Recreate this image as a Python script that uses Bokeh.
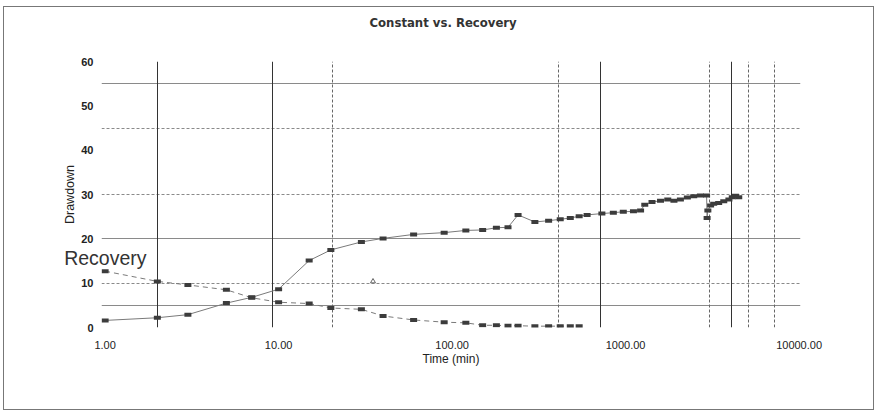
from bokeh.plotting import figure
from bokeh.models import (Range1d, FixedTicker, NumeralTickFormatter, Grid,
                          LinearAxis, ColumnDataSource, Title)
from bokeh.embed import file_html
from bokeh.resources import INLINE

# Constant-rate test: elapsed time (min) and drawdown
constant_time = [1, 2, 3, 5, 7, 10, 15, 20, 30, 40, 60, 90, 120, 150, 180, 210,
                 240, 300, 360, 420, 480, 540, 600, 730, 850, 970, 1110, 1220,
                 1290, 1420, 1590, 1750, 1900, 2070, 2270, 2470, 2700, 2930,
                 2950, 2980, 3090, 3220, 3440, 3680, 3940, 4120, 4300, 4490]
constant_drawdown = [1.6, 2.2, 2.9, 5.5, 6.8, 8.65, 15.1, 17.5, 19.3, 20.1, 21.0,
                     21.4, 21.9, 22.0, 22.5, 22.6, 25.4, 23.8, 24.1, 24.4, 24.7,
                     25.1, 25.4, 25.7, 25.9, 26.1, 26.2, 26.4, 27.7, 28.3, 28.6,
                     28.9, 28.6, 28.9, 29.3, 29.6, 29.8, 29.8, 24.7, 26.4, 27.5,
                     27.9, 28.1, 28.5, 28.9, 29.4, 29.7, 29.4]

# Recovery test: time since pump stop (min) and residual drawdown
recovery_time = [1, 2, 3, 5, 7, 10, 15, 20, 30, 40, 60, 90, 120, 150, 180, 210,
                 240, 300, 360, 420, 480, 540]
recovery_drawdown = [12.7, 10.4, 9.6, 8.5, 6.7, 5.7, 5.4, 4.4, 4.1, 2.6, 1.7, 1.2,
                     1.05, 0.5, 0.5, 0.4, 0.4, 0.3, 0.3, 0.3, 0.3, 0.3]

# Isolated reading
stray_time = [35]
stray_drawdown = [10.4]

# Axis ticks
x_ticks = [1, 10, 100, 1000, 10000]
y_ticks = [0, 10, 20, 30, 40, 50, 60]

# Grid layout
v_solid = [2, 9.2, 720, 4100]
v_dashed = [20.4, 410, 3050, 5100, 7200]
h_frame = [0, 60]
h_solid = [5, 20, 55]
h_dashed = [10, 30, 45]

# Series tag placed beside the recovery curve (drawdown level of the tag)
tag_level = 15.6
tag_text = "Recovery"

p = figure(width=871, height=404, x_axis_type="log",
           x_range=Range1d(0.953, 10190), y_range=Range1d(0, 60),
           output_backend="svg", toolbar_location=None,
           min_border_left=97, min_border_right=75,
           min_border_top=54, min_border_bottom=84)
p.styles = {"margin-left": "3px", "margin-top": "6px", "border": "1px solid #777"}
p.outline_line_color = None
p.background_fill_color = "white"
p.border_fill_color = "white"
p.xgrid.visible = False
p.ygrid.visible = False

# Blank strip between the frame and the title
p.add_layout(Title(text=" ", text_font_size="2px", standoff=28), "above")

# Title
p.title.text = "Constant vs. Recovery"
p.title.align = "left"
p.title.offset = 268
p.title.standoff = 0
p.title.text_font = "DejaVu Sans"
p.title.text_font_style = "bold"
p.title.text_font_size = "11.7px"
p.title.text_color = "#333333"


def add_grid(dim, ticks, color, dash, width):
    g = Grid(dimension=dim, ticker=FixedTicker(ticks=ticks),
             grid_line_color=color, grid_line_dash=dash, grid_line_width=width)
    p.add_layout(g)


add_grid(1, h_solid, "#8a8a8a", "solid", 1)
add_grid(1, h_dashed, "#8a8a8a", "3 2", 1)
add_grid(1, h_frame, "#444444", "solid", 1.5)
add_grid(0, v_dashed, "#666666", "3 2", 1)
add_grid(0, v_solid, "#333333", "solid", 1)

# Axes
for ax in (p.xaxis, p.yaxis):
    ax.axis_line_color = None
    ax.major_tick_line_color = None
    ax.minor_tick_line_color = None
    ax.major_tick_out = 0
    ax.major_tick_in = 0
    ax.minor_tick_out = 0
    ax.major_label_text_font = "Liberation Sans"
    ax.major_label_text_color = "#222222"
    ax.axis_label_text_font = "Liberation Sans"
    ax.axis_label_text_font_style = "normal"
    ax.axis_label_text_color = "#222222"

p.xaxis.ticker = FixedTicker(ticks=x_ticks)
p.xaxis.formatter = NumeralTickFormatter(format="0.00")
p.xaxis.major_label_text_font_size = "11px"
p.xaxis.major_label_standoff = 13
p.xaxis.axis_label = "Time (min)"
p.xaxis.axis_label_text_font_size = "12px"
p.xaxis.axis_label_standoff = 0

p.yaxis.ticker = FixedTicker(ticks=y_ticks)
p.yaxis.major_label_text_font_size = "11px"
p.yaxis.major_label_text_font_style = "bold"
p.yaxis.major_label_standoff = 8
p.yaxis.axis_label = "Drawdown"
p.yaxis.axis_label_text_font_size = "12.5px"
p.yaxis.axis_label_standoff = 1

# Outer left axis that only carries the "Recovery" tag
tag_axis = LinearAxis(ticker=FixedTicker(ticks=[tag_level]),
                      major_label_overrides={tag_level: tag_text},
                      axis_line_color=None, major_tick_line_color=None,
                      minor_tick_line_color=None, major_tick_out=0,
                      major_tick_in=0, minor_tick_out=0,
                      major_label_standoff=-86,
                      major_label_text_font="Liberation Sans",
                      major_label_text_font_size="19.5px",
                      major_label_text_color="#333333")
p.add_layout(tag_axis, "left")

# Series
const_src = ColumnDataSource(dict(t=constant_time, d=constant_drawdown))
rec_src = ColumnDataSource(dict(t=recovery_time, d=recovery_drawdown))

p.line("t", "d", source=const_src, line_color="#7a7a7a", line_width=1)
p.line("t", "d", source=rec_src, line_color="#7a7a7a", line_width=1, line_dash="5 4")
p.rect("t", "d", source=const_src, width=7, height=4, width_units="screen",
       height_units="screen", fill_color="#3c3c3c", line_color=None)
p.rect("t", "d", source=rec_src, width=7, height=4, width_units="screen",
       height_units="screen", fill_color="#3c3c3c", line_color=None)
p.scatter(stray_time, stray_drawdown, marker="triangle", size=5,
          fill_color=None, line_color="#666666", line_width=1)

open("out.html", "w").write(file_html(p, INLINE))
